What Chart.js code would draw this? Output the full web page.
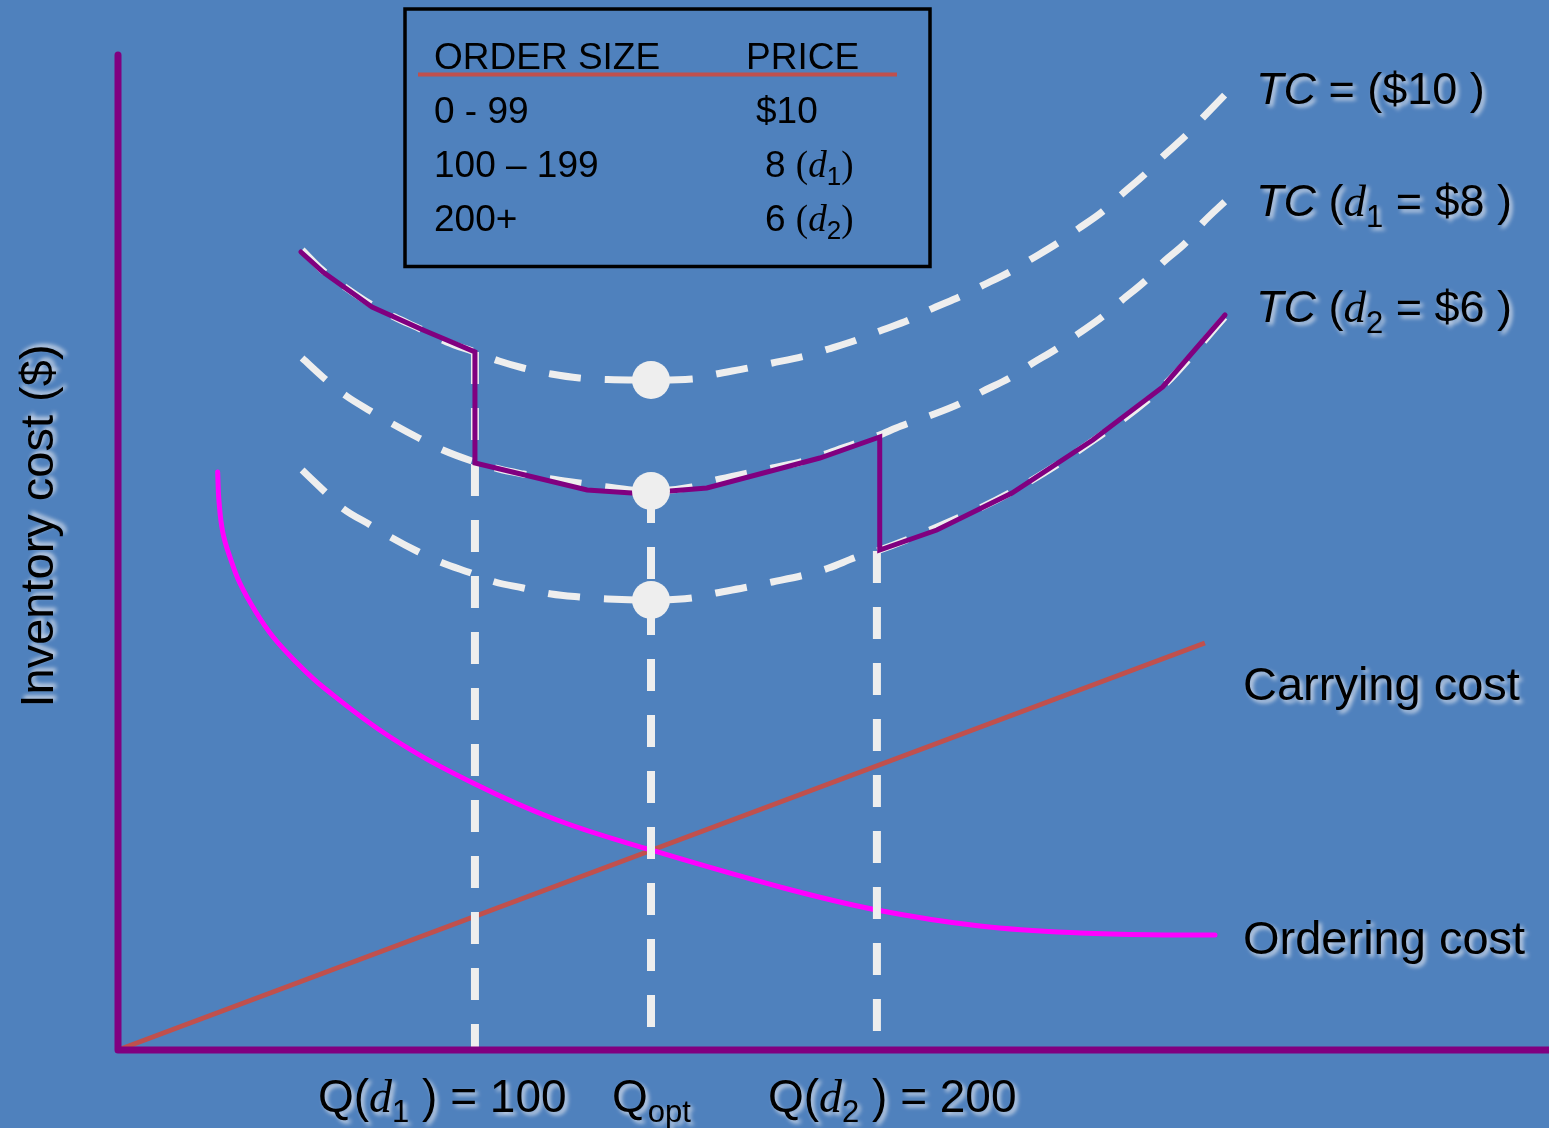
<!DOCTYPE html>
<html>
<head>
<meta charset="utf-8">
<title>Quantity discount total cost</title>
<script src="https://cdn.jsdelivr.net/npm/chart.js@4.4.1/dist/chart.umd.min.js"></script>
<style>
  html, body { margin: 0; padding: 0; background: #4F81BD; overflow: hidden; }
  #wrap { position: relative; width: 1549px; height: 1128px; }
  canvas { display: block; }
</style>
</head>
<body>
<div id="wrap"><canvas id="c" width="1549" height="1128"></canvas></div>
<script>
// Order quantity Q (x) and inventory cost in $ (y) for each curve.

// Total cost at $10 per unit
const qTC10 = [57, 62, 68, 74, 80, 87, 93, 100, 106, 112, 119, 126, 133, 143.8, 154, 160, 168, 174, 182, 188, 195, 200, 208, 213, 221, 226, 233, 238, 245, 250, 256, 261, 267, 271, 277, 281, 287];
const cTC10 = [80.0, 78.0, 76.2, 74.6, 73.3, 72.0, 70.8, 69.8, 68.9, 68.2, 67.6, 67.2, 67.05, 67.0, 67.1, 67.6, 68.2, 68.7, 69.4, 70.1, 71.0, 71.8, 73.0, 74.0, 75.4, 76.4, 77.8, 79.0, 80.7, 82.1, 83.8, 85.6, 87.7, 89.3, 91.5, 93.2, 95.7];

// Total cost at d1 = $8 per unit
const qTC8 = [57, 63, 68, 74, 80, 86, 92, 100, 106, 112, 119, 126, 133, 143.8, 154, 160, 168, 174, 182, 188, 195, 200, 206, 213, 221, 226, 233, 238, 245, 250, 256, 261, 267, 271, 277, 281, 287];
const cTC8 = [69.2, 67.0, 65.4, 63.9, 62.5, 61.2, 60.0, 58.8, 58.1, 57.6, 57.1, 56.7, 56.3, 55.9, 56.3, 57.0, 57.7, 58.2, 58.9, 59.7, 60.7, 61.4, 62.4, 63.4, 64.7, 65.8, 67.2, 68.5, 70.2, 71.6, 73.3, 75.0, 77.0, 78.7, 80.8, 82.7, 85.0];

// Total cost at d2 = $6 per unit
const qTC6 = [57, 63, 67, 74, 79, 86, 92, 99, 105, 112, 119, 126, 133, 143.8, 154, 160, 168, 174, 182, 188, 195, 200, 215, 233, 254, 271, 287];
const cTC6 = [58.0, 55.7, 54.2, 52.5, 51.3, 49.8, 48.7, 47.7, 46.8, 46.2, 45.6, 45.3, 45.1, 45.0, 45.2, 45.7, 46.3, 46.8, 47.5, 48.2, 49.3, 49.9, 52.3, 55.7, 61.0, 66.3, 73.5];

// Effective total cost with the price breaks
const qTC = [56.7, 62.2, 74.4, 87.1, 100, 100, 127.9, 139, 148.5, 157.7, 185.8, 200.7, 200.7, 214.9, 233.6, 253.7, 271.1, 286.6];
const cTC = [79.8, 77.8, 74.3, 72.0, 69.8, 58.7, 56.0, 55.7, 55.9, 56.2, 59.2, 61.3, 50.0, 52.0, 55.7, 61.0, 66.3, 73.5];

// Ordering cost
const qOrder = [36.0, 36.3, 37.3, 39.3, 41.5, 45.5, 49.8, 55.5, 62.2, 78.9, 99.5, 120.4, 143.8, 175.9, 200, 225.6, 250.5, 274.9, 284.1];
const cOrder = [57.8, 55.0, 51.7, 49.0, 46.7, 43.8, 41.3, 38.8, 36.3, 31.3, 26.7, 23.0, 20.0, 16.3, 14.0, 12.4, 11.7, 11.5, 11.5];

// Carrying cost
const qCarry = [11.2, 281.6];
const cCarry = [0, 40.7];

// Price-break quantities and the optimum
const qBreak1 = 100;
const qBreak2 = 200;
const qOpt = 143.8;
const cOptPoints = [67.0, 55.9, 45.0];

// Guide tops (where each vertical guide leaves its curve)
const cGuideTop = [69.8, 55.9, 49.9];

// Axis extents
const qMin = 11.2, qMax = 367.2;
const cMin = 0, cMax = 100, cAxisTop = 99.5;

const pts = (xs, ys) => xs.map((x, i) => ({ x: x, y: ys[i] }));

const WHITE = '#EEEEEE';
const PURPLE = '#800080';
const DASH = [32, 24];

const dashedCurve = (label, xs, ys) => ({
  label, data: pts(xs, ys), showLine: true, pointRadius: 0,
  borderColor: WHITE, borderWidth: 7, borderDash: DASH,
  cubicInterpolationMode: 'monotone', borderCapStyle: 'butt',
  clip: false, order: 5
});

const guide = (label, q, top) => ({
  label, data: pts([q, q], [top, cMin]), showLine: true, pointRadius: 0,
  borderColor: WHITE, borderWidth: 8, borderDash: DASH, borderCapStyle: 'butt',
  clip: false, order: 4
});

const SANS = '"Liberation Sans", Arial, Helvetica, sans-serif';
const SERIF = '"Liberation Serif", "Times New Roman", serif';

function drawRuns(ctx, x, y, parts) {
  let cx = x;
  for (const p of parts) {
    ctx.font = p.f;
    ctx.fillText(p.t, cx, y + (p.dy || 0));
    cx += ctx.measureText(p.t).width;
  }
}

function shadowOn(ctx, ox, oy) {
  ctx.shadowColor = 'rgba(222,226,236,0.9)';
  ctx.shadowBlur = 4;
  ctx.shadowOffsetX = ox;
  ctx.shadowOffsetY = oy;
}
function shadowOff(ctx) {
  ctx.shadowColor = 'rgba(0,0,0,0)';
  ctx.shadowBlur = 0;
  ctx.shadowOffsetX = 0;
  ctx.shadowOffsetY = 0;
}

const annotations = {
  id: 'annotations',
  afterDraw(chart) {
    const ctx = chart.ctx;
    const xs = chart.scales.x;
    ctx.save();
    ctx.fillStyle = '#000';
    ctx.textBaseline = 'alphabetic';
    ctx.textAlign = 'left';

    // Price table
    ctx.lineWidth = 3.5;
    ctx.strokeStyle = '#000';
    ctx.strokeRect(405, 9, 525, 257.5);
    ctx.strokeStyle = '#C0504D';
    ctx.lineWidth = 4;
    ctx.beginPath();
    ctx.moveTo(418, 74.5);
    ctx.lineTo(897, 74.5);
    ctx.stroke();

    const tf = '37px ' + SANS;
    const tSub = '26px ' + SANS;
    const tSer = '37px ' + SERIF;
    const tIt = 'italic 37px ' + SERIF;
    drawRuns(ctx, 434, 69, [{ t: 'ORDER SIZE', f: tf }]);
    drawRuns(ctx, 746, 69, [{ t: 'PRICE', f: tf }]);
    drawRuns(ctx, 434, 123, [{ t: '0 - 99', f: tf }]);
    drawRuns(ctx, 756, 123, [{ t: '$10', f: tf }]);
    drawRuns(ctx, 434, 177, [{ t: '100 \u2013 199', f: tf }]);
    drawRuns(ctx, 765, 177, [{ t: '8 ', f: tf }, { t: '(', f: tSer }, { t: 'd', f: tIt }, { t: '1', f: tSub, dy: 8 }, { t: ')', f: tSer }]);
    drawRuns(ctx, 434, 231, [{ t: '200+', f: tf }]);
    drawRuns(ctx, 765, 231, [{ t: '6 ', f: tf }, { t: '(', f: tSer }, { t: 'd', f: tIt }, { t: '2', f: tSub, dy: 8 }, { t: ')', f: tSer }]);

    // Curve labels
    shadowOn(ctx, 3, 3);
    const lf = '45px ' + SANS;
    const lIt = 'italic 45px ' + SANS;
    const lD = 'italic 45px ' + SERIF;
    const lSub = '31px ' + SANS;
    drawRuns(ctx, 1256, 104, [{ t: 'TC', f: lIt }, { t: ' = ($10 )', f: lf }]);
    drawRuns(ctx, 1256, 216, [{ t: 'TC', f: lIt }, { t: ' (', f: lf }, { t: 'd', f: lD }, { t: '1', f: lSub, dy: 11 }, { t: ' = $8 )', f: lf }]);
    drawRuns(ctx, 1256, 322, [{ t: 'TC', f: lIt }, { t: ' (', f: lf }, { t: 'd', f: lD }, { t: '2', f: lSub, dy: 11 }, { t: ' = $6 )', f: lf }]);

    const cf = '47px ' + SANS;
    drawRuns(ctx, 1243, 700, [{ t: 'Carrying cost', f: cf }]);
    drawRuns(ctx, 1243, 954, [{ t: 'Ordering cost', f: cf }]);

    // Quantity labels under the axis
    const bf = '46px ' + SANS;
    const bD = 'italic 46px ' + SERIF;
    const bSub = '31px ' + SANS;
    const by = 1112;
    drawRuns(ctx, xs.getPixelForValue(qBreak1) - 157, by, [{ t: 'Q(', f: bf }, { t: 'd', f: bD }, { t: '1', f: bSub, dy: 10 }, { t: ' ) = 100', f: bf }]);
    drawRuns(ctx, xs.getPixelForValue(qOpt) - 39, by, [{ t: 'Q', f: bf }, { t: 'opt', f: bSub, dy: 10 }]);
    drawRuns(ctx, xs.getPixelForValue(qBreak2) - 109, by, [{ t: 'Q(', f: bf }, { t: 'd', f: bD }, { t: '2', f: bSub, dy: 10 }, { t: ' ) = 200', f: bf }]);

    // Vertical axis title
    ctx.save();
    shadowOn(ctx, 3, -3);
    ctx.translate(53, 526);
    ctx.rotate(-Math.PI / 2);
    ctx.textAlign = 'center';
    ctx.font = '47px ' + SANS;
    ctx.fillText('Inventory cost ($)', 0, 0);
    ctx.restore();

    shadowOff(ctx);
    ctx.restore();
  }
};

new Chart(document.getElementById('c'), {
  type: 'scatter',
  data: {
    datasets: [
      {
        label: 'Optimum points', data: pts([qOpt, qOpt, qOpt], cOptPoints),
        pointRadius: 19, pointHoverRadius: 19, pointBackgroundColor: WHITE,
        pointBorderWidth: 0, showLine: false, clip: false, order: 0
      },
      {
        label: 'Axes', data: pts([qMin, qMin, qMax], [cAxisTop, cMin, cMin]),
        showLine: true, pointRadius: 0, borderColor: PURPLE, borderWidth: 7,
        borderJoinStyle: 'round', borderCapStyle: 'butt', tension: 0, clip: false, order: 1
      },
      {
        label: 'TC', data: pts(qTC, cTC), showLine: true, pointRadius: 0,
        borderColor: PURPLE, borderWidth: 5, tension: 0, borderJoinStyle: 'miter',
        borderCapStyle: 'round', clip: false, order: 2
      },
      guide('Q(d1)', qBreak1, cGuideTop[0]),
      guide('Qopt', qOpt, cGuideTop[1]),
      guide('Q(d2)', qBreak2, cGuideTop[2]),
      dashedCurve('TC ($10)', qTC10, cTC10),
      dashedCurve('TC (d1 = $8)', qTC8, cTC8),
      dashedCurve('TC (d2 = $6)', qTC6, cTC6),
      {
        label: 'Ordering cost', data: pts(qOrder, cOrder), showLine: true, pointRadius: 0,
        borderColor: '#FF00FF', borderWidth: 5, tension: 0.4,
        borderCapStyle: 'round', clip: false, order: 6
      },
      {
        label: 'Carrying cost', data: pts(qCarry, cCarry), showLine: true, pointRadius: 0,
        borderColor: '#C0504D', borderWidth: 5, tension: 0, borderCapStyle: 'butt',
        clip: false, order: 7
      }
    ]
  },
  options: {
    responsive: false,
    devicePixelRatio: 1,
    animation: false,
    events: [],
    layout: { autoPadding: false, padding: { left: 118, right: 0, top: 50, bottom: 78 } },
    scales: {
      x: { type: 'linear', min: qMin, max: qMax, display: false },
      y: { type: 'linear', min: cMin, max: cMax, display: false }
    },
    plugins: {
      legend: { display: false },
      title: { display: false },
      tooltip: { enabled: false }
    }
  },
  plugins: [annotations]
});
</script>
</body>
</html>
